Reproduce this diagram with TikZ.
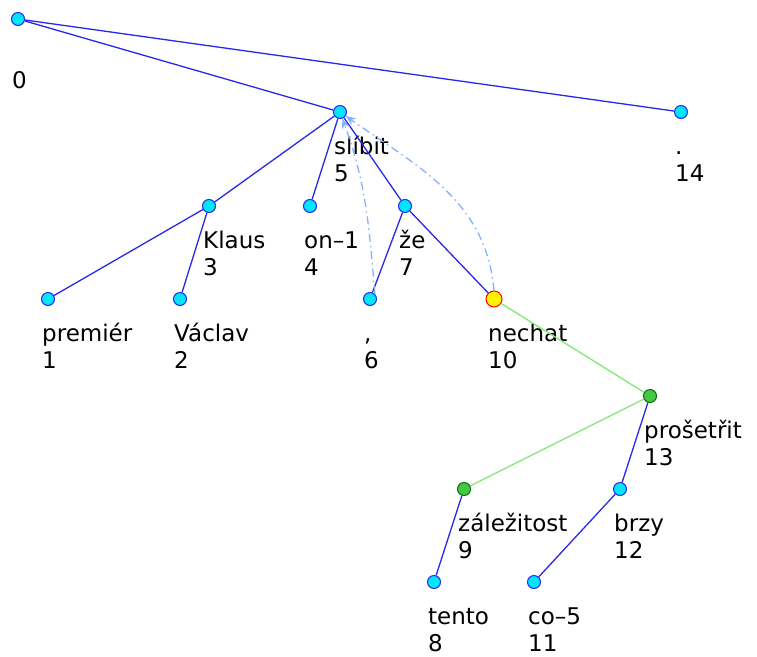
\documentclass[tikz,border=0pt]{standalone}
\usepackage{fontspec}
\setmainfont{DejaVu Sans}
\usetikzlibrary{arrows.meta}
\definecolor{dotcyan}{RGB}{0,230,255}
\definecolor{edgeblue}{RGB}{40,40,235}
\definecolor{edgegreen}{RGB}{130,230,120}
\definecolor{dotgreen}{RGB}{70,200,70}
\definecolor{linkblue}{RGB}{130,180,250}
\begin{document}
\begin{tikzpicture}[x=1pt,y=-1pt,
  dot/.style={circle,draw=edgeblue,fill=dotcyan,line width=1pt,minimum size=13pt,inner sep=0pt},
  gdot/.style={dot,draw=green!45!black,fill=dotgreen},
  ydot/.style={dot,draw=red,fill=yellow,minimum size=16pt},
  lab/.style={anchor=base west,inner sep=0pt,font=\fontsize{23}{29}\selectfont},
  dep/.style={draw=edgeblue,line width=1.3pt},
  gdep/.style={draw=edgegreen,line width=1.3pt},
  link/.style={draw=linkblue,line width=1.3pt,dash pattern=on 8pt off 4pt on 1.5pt off 4pt,-{Stealth[length=10pt,width=8pt]}}]
\useasboundingbox (0,0) rectangle (757,656);
% tree nodes with word and order
\foreach \i/\x/\y/\s/\w in {0/18/19/dot/{},1/48/299/dot/premiér,2/180/299/dot/Václav,
  3/209/206/dot/Klaus,4/310/206/dot/on–1,5/340/112/dot/slíbit,6/370/299/dot/{,},
  7/405/206/dot/že,8/434/582/dot/tento,9/464/489/gdot/záležitost,10/494/299/ydot/nechat,
  11/534/582/dot/co–5,12/620/489/dot/brzy,13/650/396/gdot/prošetřit,14/681/112/dot/.}{
  \node[\s] (n\i) at (\x,\y) {};
  \node[lab] (w\i) at ([shift={(-6,42)}]n\i.center) {\w};
  \node[lab] (k\i) at ([shift={(-6,69)}]n\i.center) {\i};
}
% dependencies
\foreach \a/\b in {0/5,0/14,5/3,5/4,5/7,3/1,3/2,7/6,7/10,13/12,9/8,12/11}
  \draw[dep] (n\a) -- (n\b);
\draw[gdep] (n10) -- (n13);
\draw[gdep] (n13) -- (n9);
% links
\draw[link] (n6.north east) to[out=95,in=-70] (n5);
\draw[link] (n10.north) to[out=95,in=-35] (n5);
\end{tikzpicture}
\end{document}
